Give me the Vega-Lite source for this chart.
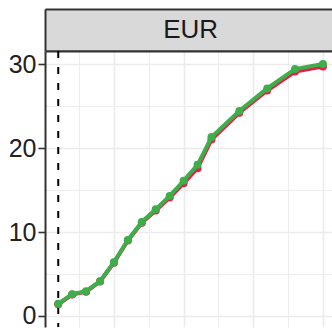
{
  "$schema": "https://vega.github.io/schema/vega-lite/v6.json",
  "padding": {"left": 8, "top": 9, "right": 0, "bottom": 0},
  "background": "white",
  "spacing": 0,
  "bounds": "flush",
  "config": {
    "font": "Liberation Sans",
    "view": {"stroke": null, "fill": "white"}
  },
  "datasets": {
    "series": [
      {"i": 0, "value": 1.4, "series": "red"},
      {"i": 1, "value": 2.55, "series": "red"},
      {"i": 2, "value": 2.9, "series": "red"},
      {"i": 3, "value": 4.1, "series": "red"},
      {"i": 4, "value": 6.35, "series": "red"},
      {"i": 5, "value": 9.0, "series": "red"},
      {"i": 6, "value": 11.1, "series": "red"},
      {"i": 7, "value": 12.55, "series": "red"},
      {"i": 8, "value": 14.1, "series": "red"},
      {"i": 9, "value": 15.8, "series": "red"},
      {"i": 10, "value": 17.6, "series": "red"},
      {"i": 11, "value": 21.0, "series": "red"},
      {"i": 13, "value": 24.2, "series": "red"},
      {"i": 15, "value": 26.85, "series": "red"},
      {"i": 17, "value": 29.1, "series": "red"},
      {"i": 19, "value": 29.7, "series": "red"},
      {"i": 0, "value": 1.45, "series": "green"},
      {"i": 1, "value": 2.6, "series": "green"},
      {"i": 2, "value": 2.95, "series": "green"},
      {"i": 3, "value": 4.15, "series": "green"},
      {"i": 4, "value": 6.4, "series": "green"},
      {"i": 5, "value": 9.05, "series": "green"},
      {"i": 6, "value": 11.2, "series": "green"},
      {"i": 7, "value": 12.7, "series": "green"},
      {"i": 8, "value": 14.3, "series": "green"},
      {"i": 9, "value": 16.1, "series": "green"},
      {"i": 10, "value": 18.0, "series": "green"},
      {"i": 11, "value": 21.3, "series": "green"},
      {"i": 13, "value": 24.4, "series": "green"},
      {"i": 15, "value": 27.1, "series": "green"},
      {"i": 17, "value": 29.4, "series": "green"},
      {"i": 19, "value": 30.0, "series": "green"}
    ]
  },
  "vconcat": [
    {
      "width": 287,
      "height": 42,
      "view": {"fill": "#D9D9D9", "stroke": null},
      "data": {"values": [{"panel": "EUR"}]},
      "resolve": {"axis": {"x": "independent"}},
      "layer": [
        {
          "mark": {"type": "text", "fontSize": 26, "color": "#1A1A1A", "font": "Liberation Sans", "baseline": "middle", "align": "center"},
          "encoding": {
            "text": {"field": "panel"},
            "x": {"datum": 9.5, "type": "quantitative", "scale": {"domain": [-0.95, 19.65], "nice": false, "zero": false},
              "axis": {"orient": "bottom", "domain": true, "domainColor": "#333333", "domainWidth": 2, "ticks": false, "labels": false, "grid": false, "title": null}},
            "y": {"datum": 0.5, "type": "quantitative", "scale": {"domain": [0, 1], "nice": false, "zero": false},
              "axis": {"orient": "left", "domain": true, "domainColor": "#333333", "domainWidth": 2, "ticks": false, "labels": false, "grid": false, "title": null}}
          }
        },
        {
          "mark": {"type": "rule", "strokeOpacity": 0},
          "encoding": {
            "x": {"datum": 9.5, "type": "quantitative",
              "axis": {"orient": "top", "domain": true, "domainColor": "#333333", "domainWidth": 2, "ticks": false, "labels": false, "grid": false, "title": null}}
          }
        }
      ]
    },
    {
      "width": 287,
      "height": 276,
      "data": {"name": "series"},
      "resolve": {"axis": {"x": "independent", "y": "independent"}},
      "layer": [
        {
          "data": {"values": [{"start": 0}]},
          "mark": {"type": "rule", "color": "black", "strokeWidth": 2, "strokeDash": [7, 9]},
          "encoding": {
            "x": {
              "field": "start", "type": "quantitative",
              "scale": {"domain": [-0.95, 19.65], "nice": false, "zero": false},
              "axis": {"orient": "bottom", "values": [4, 9, 14, 19], "grid": true, "gridColor": "#EBEBEB", "gridWidth": 1.6, "labels": false, "ticks": false, "domain": false, "title": null}
            }
          }
        },
        {
          "transform": [{"filter": "datum.series === 'red'"}],
          "mark": {"type": "line", "color": "#E51E4B", "strokeWidth": 4},
          "encoding": {
            "x": {"field": "i", "type": "quantitative", "axis": {"orient": "top", "values": [1.5, 6.5, 11.5, 16.5], "grid": true, "gridColor": "#EBEBEB", "gridWidth": 0.9, "labels": false, "ticks": false, "domain": true, "domainColor": "#333333", "domainWidth": 2, "title": null}},
            "y": {
              "field": "value", "type": "quantitative",
              "scale": {"domain": [-1.31, 31.55], "nice": false, "zero": false},
              "axis": {"orient": "left", "values": [0, 10, 20, 30], "grid": true, "gridColor": "#EBEBEB", "gridWidth": 1.6, "domain": true, "domainColor": "#333333", "domainWidth": 2, "tickColor": "#333333", "tickSize": 7, "tickWidth": 1.6, "labelFontSize": 25, "labelColor": "#222222", "labelFont": "Liberation Sans", "labelPadding": 2, "title": null}
            }
          }
        },
        {
          "transform": [{"filter": "datum.series === 'red'"}],
          "mark": {"type": "circle", "color": "#E51E4B", "size": 64, "opacity": 1},
          "encoding": {
            "x": {"field": "i", "type": "quantitative", "axis": null},
            "y": {"field": "value", "type": "quantitative", "axis": {"orient": "right", "values": [5, 15, 25], "grid": true, "gridColor": "#EBEBEB", "gridWidth": 0.9, "labels": false, "ticks": false, "domain": false, "title": null}}
          }
        },
        {
          "transform": [{"filter": "datum.series === 'green'"}],
          "mark": {"type": "line", "color": "#3DAE4A", "strokeWidth": 4},
          "encoding": {
            "x": {"field": "i", "type": "quantitative", "axis": null},
            "y": {"field": "value", "type": "quantitative", "axis": null}
          }
        },
        {
          "transform": [{"filter": "datum.series === 'green'"}],
          "mark": {"type": "circle", "color": "#3DAE4A", "size": 64, "opacity": 1},
          "encoding": {
            "x": {"field": "i", "type": "quantitative", "axis": null},
            "y": {"field": "value", "type": "quantitative", "axis": null}
          }
        }
      ]
    }
  ]
}
